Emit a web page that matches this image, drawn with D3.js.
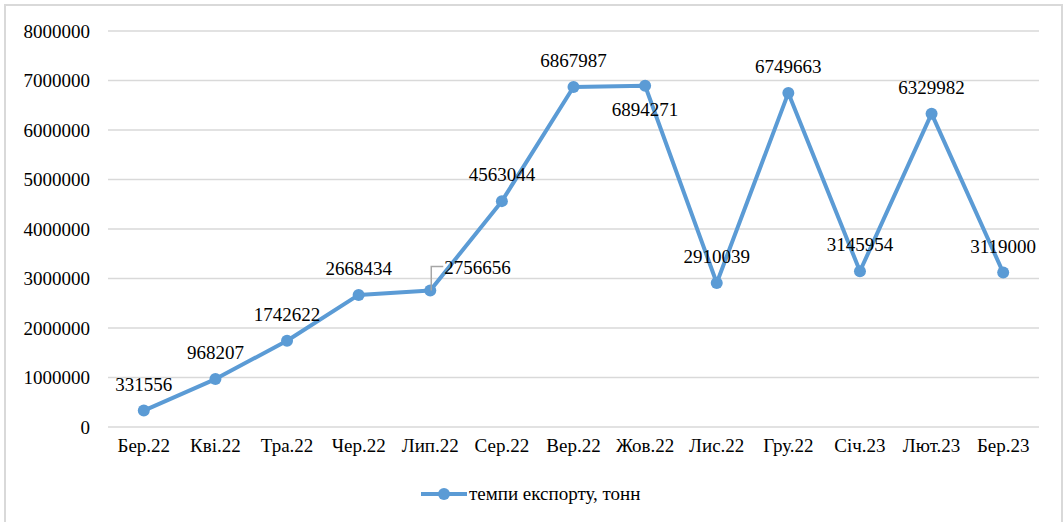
<!DOCTYPE html>
<html>
<head>
<meta charset="utf-8">
<script src="https://cdn.jsdelivr.net/npm/d3@7"></script>
<style>
body{margin:0;background:#fff;}
svg text{font-family:"Liberation Serif","Times New Roman",serif !important;fill:#000;}
</style>
</head>
<body>
<svg id="chart" width="1064" height="522"></svg>
<script>
const categories = ["Бер.22","Кві.22","Тра.22","Чер.22","Лип.22","Сер.22","Вер.22","Жов.22","Лис.22","Гру.22","Січ.23","Лют.23","Бер.23"];
const values = [331556,968207,1742622,2668434,2756656,4563044,6867987,6894271,2910039,6749663,3145954,6329982,3119000];
const yTicks = [0,1000000,2000000,3000000,4000000,5000000,6000000,7000000,8000000];
const seriesName = "темпи експорту, тонн";
// label placement: "above", "below", "leader"
const labelPos = ["above","above","above","above","leader","above","above","below","above","above","above","above","above"];

const svg = d3.select("#chart");
const color = "#5B9BD5";
const fs = 19;

svg.append("rect").attr("x",5).attr("y",5).attr("width",1057).attr("height",530)
  .attr("fill","#fff").attr("stroke","#d9d9d9").attr("stroke-width",2);

const x = d3.scaleBand().domain(categories).range([108,1039]);
const y = d3.scaleLinear().domain([0,8000000]).range([427,31]);

// gridlines
svg.append("g").selectAll("line").data(yTicks).join("line")
  .attr("x1",108).attr("x2",1039)
  .attr("y1",d=>y(d)).attr("y2",d=>y(d))
  .attr("stroke","#d9d9d9").attr("stroke-width",1.5);

// y axis
const yAxis = svg.append("g").attr("transform","translate(108,0)")
  .call(d3.axisLeft(y).tickValues(yTicks).tickFormat(d3.format("d")).tickSize(0).tickPadding(18));
yAxis.attr("font-family",null).attr("font-size",null);
yAxis.select(".domain").remove();
yAxis.selectAll("text").attr("font-size",fs).attr("fill","#000");

// x axis
const xAxis = svg.append("g").attr("transform","translate(0,427)")
  .call(d3.axisBottom(x).tickSize(0).tickPadding(12));
xAxis.attr("font-family",null).attr("font-size",null);
xAxis.select(".domain").remove();
xAxis.selectAll("text").attr("font-size",fs).attr("fill","#000");

const cx = d => x(d) + x.bandwidth()/2;

// line
const data = categories.map((c,i)=>({c, v:values[i], pos:labelPos[i]}));
svg.append("path").datum(data)
  .attr("fill","none").attr("stroke",color).attr("stroke-width",4).attr("stroke-linejoin","round")
  .attr("d", d3.line().x(d=>cx(d.c)).y(d=>y(d.v)));

svg.append("g").selectAll("circle").data(data).join("circle")
  .attr("cx",d=>cx(d.c)).attr("cy",d=>y(d.v)).attr("r",6).attr("fill",color);

// leader lines
data.filter(d=>d.pos==="leader").forEach(d=>{
  const px = cx(d.c), py = y(d.v);
  svg.append("path").attr("fill","none").attr("stroke","#a6a6a6").attr("stroke-width",1.5)
    .attr("d",`M${px+1},${py}V${py-24}H${px+13}`);
});

// data labels
svg.append("g").selectAll("text").data(data).join("text")
  .attr("font-size",fs)
  .attr("text-anchor",d=>d.pos==="leader"?"start":"middle")
  .attr("x",d=>d.pos==="leader"?cx(d.c)+14:cx(d.c))
  .attr("y",d=>{
    const py=y(d.v);
    if(d.pos==="below") return py+30;
    if(d.pos==="leader") return py-17;
    return py-20;
  })
  .text(d=>d.v);

// legend
const lg = svg.append("g");
lg.append("line").attr("x1",421).attr("x2",467).attr("y1",494).attr("y2",494)
  .attr("stroke",color).attr("stroke-width",4);
lg.append("circle").attr("cx",444).attr("cy",494).attr("r",6).attr("fill",color);
lg.append("text").attr("x",469).attr("y",500).attr("font-size",fs).text(seriesName);
</script>
</body>
</html>
